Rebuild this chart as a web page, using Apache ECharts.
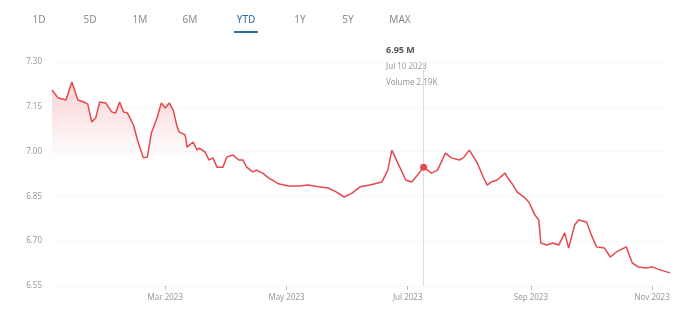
<!DOCTYPE html>
<html>
<head>
    <meta charset="utf-8">
    <script src="https://cdn.jsdelivr.net/npm/echarts@6/dist/echarts.min.js"></script>
    <style>
        html, body { margin: 0; padding: 0; background: #fff; }
    </style>
</head>
<body>
    <div id="main" style="width: 690px;height:319px;"></div>
    <script type="text/javascript">
        // range tabs
        var tabs = ['1D', '5D', '1M', '6M', 'YTD', '1Y', '5Y', 'MAX'];
        var activeTab = 'YTD';

        // price series
        var dates = [
            '2023-01-03','2023-01-06','2023-01-10','2023-01-13','2023-01-16','2023-01-19','2023-01-21','2023-01-23',
            '2023-01-25','2023-01-27','2023-01-30','2023-01-31','2023-02-02','2023-02-04','2023-02-06','2023-02-08',
            '2023-02-10','2023-02-13','2023-02-15','2023-02-18','2023-02-20','2023-02-22','2023-02-25','2023-02-27',
            '2023-03-01','2023-03-03','2023-03-05','2023-03-07','2023-03-08','2023-03-11','2023-03-12','2023-03-15',
            '2023-03-17','2023-03-18','2023-03-21','2023-03-23','2023-03-25','2023-03-27','2023-03-30','2023-04-01',
            '2023-04-04','2023-04-07','2023-04-09','2023-04-11','2023-04-14','2023-04-16','2023-04-19','2023-04-22',
            '2023-04-27','2023-05-02','2023-05-07','2023-05-12','2023-05-17','2023-05-22','2023-05-26','2023-05-30',
            '2023-06-03','2023-06-07','2023-06-12','2023-06-18','2023-06-21','2023-06-23','2023-06-27','2023-06-30',
            '2023-07-03','2023-07-06','2023-07-09','2023-07-13','2023-07-16','2023-07-20','2023-07-23','2023-07-27',
            '2023-07-29','2023-08-01','2023-08-05','2023-08-08','2023-08-10','2023-08-12','2023-08-15','2023-08-19',
            '2023-08-20','2023-08-23','2023-08-25','2023-08-29','2023-08-31','2023-09-03','2023-09-05','2023-09-06',
            '2023-09-09','2023-09-12','2023-09-15','2023-09-18','2023-09-20','2023-09-23','2023-09-25','2023-09-29',
            '2023-10-01','2023-10-04','2023-10-08','2023-10-11','2023-10-14','2023-10-19','2023-10-22','2023-10-25',
            '2023-10-29','2023-11-01','2023-11-05','2023-11-10'
        ];
        var prices = [
            7.206, 7.180, 7.173, 7.233, 7.173, 7.166, 7.159, 7.099,
            7.113, 7.166, 7.163, 7.166, 7.133, 7.129, 7.166, 7.133,
            7.129, 7.089, 7.039, 6.979, 6.982, 7.062, 7.116, 7.163,
            7.146, 7.163, 7.139, 7.082, 7.066, 7.056, 7.015, 7.032,
            7.005, 7.012, 6.999, 6.972, 6.979, 6.948, 6.948, 6.982,
            6.989, 6.972, 6.972, 6.948, 6.932, 6.938, 6.928, 6.912,
            6.892, 6.885, 6.885, 6.888, 6.882, 6.878, 6.865, 6.848,
            6.861, 6.882, 6.888, 6.898, 6.938, 7.005, 6.948, 6.905,
            6.898, 6.922, 6.948, 6.928, 6.938, 6.995, 6.979, 6.972,
            6.979, 7.005, 6.962, 6.915, 6.888, 6.898, 6.905, 6.928,
            6.915, 6.888, 6.865, 6.845, 6.831, 6.788, 6.771, 6.694,
            6.687, 6.694, 6.687, 6.728, 6.677, 6.754, 6.771, 6.764,
            6.728, 6.681, 6.677, 6.647, 6.664, 6.681, 6.627, 6.614,
            6.610, 6.614, 6.604, 6.594
        ];

        // hovered point shown in the tooltip
        var hoverIndex = 66;
        var hoverLines = ['6.95 M', 'Jul 10 2023', 'Volume 2.19K'];

        var monthNames = ['Jan','Feb','Mar','Apr','May','Jun','Jul','Aug','Sep','Oct','Nov','Dec'];

        var seriesData = [];
        for (var i = 0; i < dates.length; i++) {
            seriesData.push([dates[i], prices[i]]);
        }

        var myChart = echarts.init(document.getElementById('main'));

        var tabX = [39, 90, 140, 190, 246, 300, 348, 400];
        var graphics = [];
        for (var t = 0; t < tabs.length; t++) {
            graphics.push({
                type: 'text',
                style: {
                    x: tabX[t],
                    y: 20,
                    text: tabs[t],
                    fill: tabs[t] === activeTab ? '#2c6aa8' : '#8a8a8a',
                    font: '10px "Noto Sans"',
                    textAlign: 'center',
                    textVerticalAlign: 'middle'
                }
            });
        }
        graphics.push({
            type: 'rect',
            shape: { x: 234, y: 31, width: 24, height: 2 },
            style: { fill: '#2c6aa8' }
        });
        // tooltip text block
        graphics.push({
            type: 'text', left: 386, top: 46,
            style: { text: hoverLines[0], fill: '#555', font: 'bold 9px "Noto Sans"' }
        });
        graphics.push({
            type: 'text', left: 386, top: 63,
            style: { text: hoverLines[1], fill: '#999', font: '8px "Noto Sans"' }
        });
        graphics.push({
            type: 'text', left: 386, top: 79,
            style: { text: hoverLines[2], fill: '#999', font: '8px "Noto Sans"' }
        });

        var option = {
            animation: false,
            grid: { left: 52, right: 20, top: 62, bottom: 33 },
            graphic: graphics,
            xAxis: {
                type: 'time',
                min: dates[0],
                max: dates[dates.length - 1],
                splitNumber: 5,
                minInterval: 59 * 86400000,
                axisLine: { show: false },
                axisTick: { show: true, length: 4, lineStyle: { color: '#bbb' } },
                splitLine: { show: false },
                axisLabel: {
                    color: '#999',
                    fontSize: 8,
                    fontFamily: 'Noto Sans',
                    margin: 8,
                    formatter: function (val) {
                        var d = new Date(val);
                        return monthNames[d.getMonth()] + ' ' + d.getFullYear();
                    }
                }
            },
            yAxis: {
                type: 'value',
                min: 6.55,
                max: 7.30,
                interval: 0.15,
                axisLine: { show: false },
                axisTick: { show: false },
                splitLine: { show: true, lineStyle: { color: '#f3f3f3', type: 'dotted' } },
                axisLabel: {
                    color: '#999',
                    fontSize: 8,
                    fontFamily: 'Noto Sans',
                    margin: 10,
                    formatter: function (v) { return v.toFixed(2); }
                }
            },
            series: [
                {
                    type: 'line',
                    data: seriesData,
                    showSymbol: false,
                    lineStyle: { color: '#e5484d', width: 1.5 },
                    itemStyle: { color: '#e5484d' },
                    areaStyle: {
                        color: new echarts.graphic.LinearGradient(0, 0, 0, 1, [
                            { offset: 0, color: 'rgba(229,72,77,0.35)' },
                            { offset: 0.38, color: 'rgba(229,72,77,0.0)' },
                            { offset: 1, color: 'rgba(229,72,77,0.0)' }
                        ])
                    },
                    markLine: {
                        silent: true,
                        symbol: 'none',
                        label: { show: false },
                        lineStyle: { color: '#dcdcdc', type: 'solid', width: 1 },
                        data: [{ xAxis: dates[hoverIndex] }]
                    },
                    markPoint: {
                        silent: true,
                        symbol: 'circle',
                        symbolSize: 7,
                        label: { show: false },
                        itemStyle: { color: '#e5484d' },
                        data: [{ coord: [dates[hoverIndex], prices[hoverIndex]] }]
                    }
                }
            ]
        };

        myChart.setOption(option);
    </script>
</body>
</html>
